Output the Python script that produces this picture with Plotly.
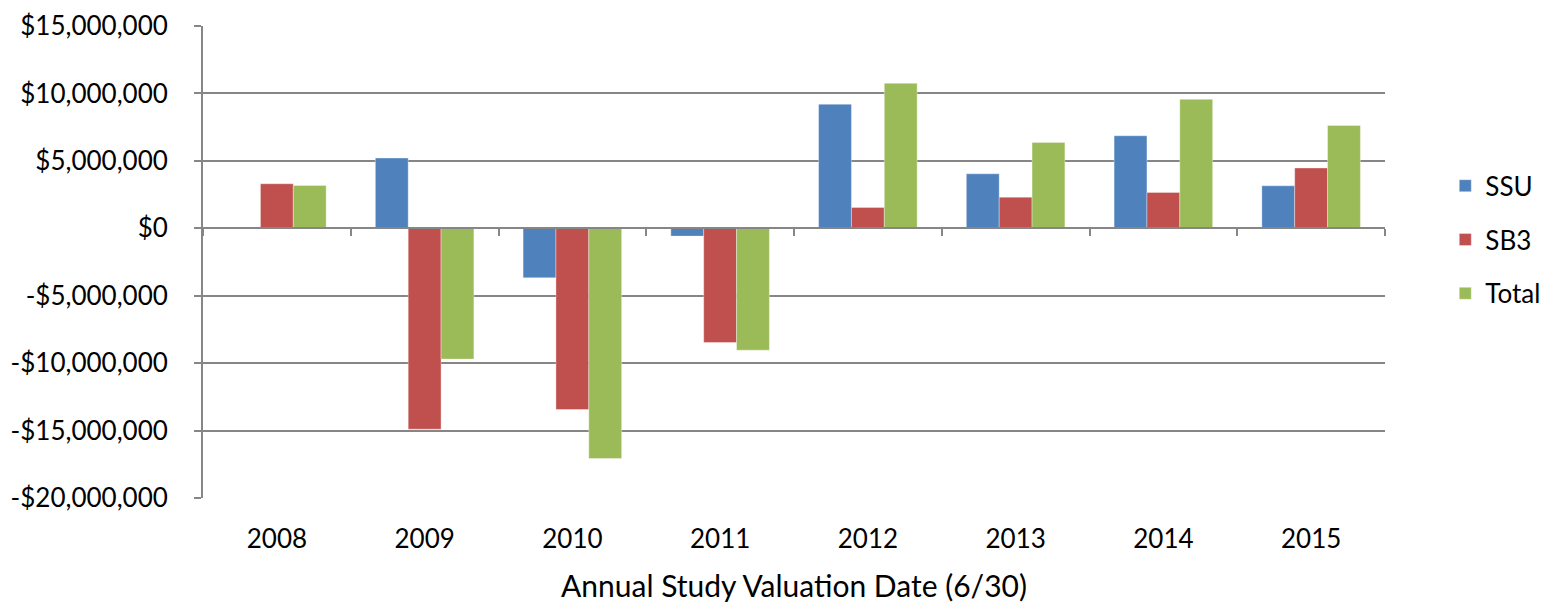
import plotly.graph_objects as go

years = ["2008", "2009", "2010", "2011", "2012", "2013", "2014", "2015"]
ssu = [0, 5210000, -3670000, -580000, 9200000, 4040000, 6860000, 3150000]
sb3 = [3300000, -14900000, -13440000, -8470000, 1550000, 2310000, 2660000, 4470000]
total = [3180000, -9700000, -17070000, -9040000, 10750000, 6370000, 9560000, 7630000]
series_names = ["SSU", "SB3", "Total"]
colors = ["#4F81BD", "#C0504D", "#9BBB59"]
tick_vals = [15e6, 10e6, 5e6, 0, -5e6, -10e6, -15e6, -20e6]
tick_text = ["$15,000,000", "$10,000,000", "$5,000,000", "$0",
             "-$5,000,000", "-$10,000,000", "-$15,000,000", "-$20,000,000"]

FONT = "Lato"
fig = go.Figure()
for name, vals, c in zip(series_names, [ssu, sb3, total], colors):
    fig.add_trace(go.Bar(x=years, y=vals, name=name, marker_color=c,
                         marker_line=dict(color="rgba(255,255,255,0.35)", width=1),
                         legendgroup=name))
# invisible trace on zero-line axis
fig.add_trace(go.Scatter(x=years, y=[0]*len(years), xaxis="x2", mode="markers",
                         marker=dict(opacity=0), showlegend=False, hoverinfo="skip"))

fig.update_layout(
    width=1545, height=595,
    margin=dict(l=195, r=168, t=18, b=105, autoexpand=False),
    plot_bgcolor="white", paper_bgcolor="white",
    barmode="group", bargap=0.333, bargroupgap=0,
    font=dict(family=FONT, size=26, color="black"),
    xaxis=dict(type="category", categoryarray=years, showline=False, ticks="",
               showgrid=False, ticklabelstandoff=23, automargin=False,
               tickfont=dict(size=26),
               title=dict(text="Annual Study Valuation Date (6/30)", standoff=22,
                          font=dict(size=30))),
    xaxis2=dict(type="category", categoryarray=years, overlaying="x", anchor="free",
                position=(498 - 228) / 472, matches="x", showline=True,
                linecolor="#868686", linewidth=2, ticks="outside", tickson="boundaries",
                ticklen=7, tickcolor="#868686", tickwidth=2, showticklabels=False,
                showgrid=False, side="bottom"),
    yaxis=dict(range=[-20e6, 15e6], tickvals=tick_vals, ticktext=tick_text,
               showgrid=True, gridcolor="#868686", gridwidth=2,
               showline=True, linecolor="#868686", linewidth=2,
               ticks="outside", ticklen=7, tickcolor="#868686", tickwidth=2,
               zeroline=False, ticklabelstandoff=21, automargin=False,
               tickfont=dict(size=26)),
    legend=dict(x=1.051, xanchor="left", y=0.547, yanchor="middle",
                font=dict(size=26), tracegroupgap=17, itemwidth=30),
    showlegend=True,
)
fig.write_html("out.html")
